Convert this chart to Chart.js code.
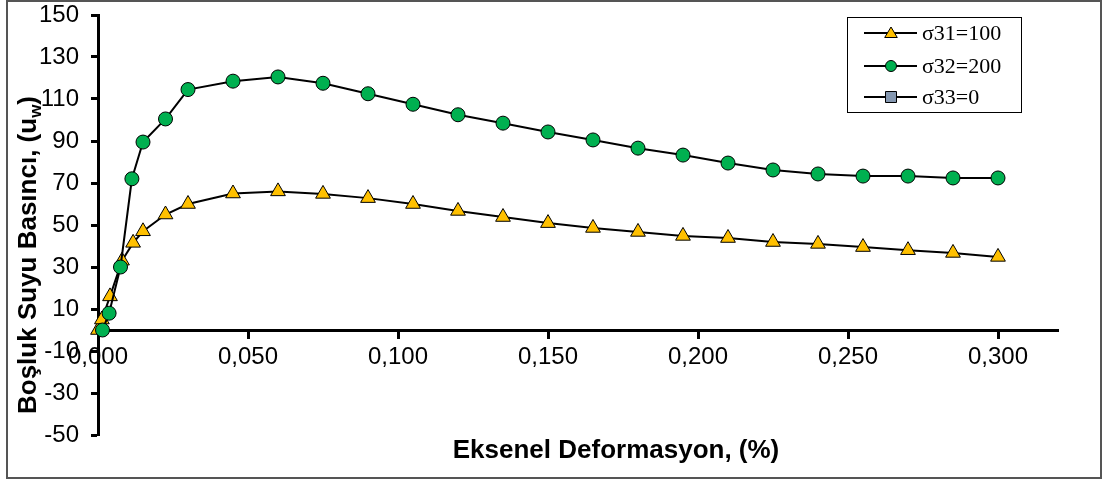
<!DOCTYPE html>
<html>
<head>
<meta charset="utf-8">
<script src="https://cdn.jsdelivr.net/npm/chart.js@4.4.0/dist/chart.umd.min.js"></script>
<style>
  html, body { margin: 0; padding: 0; background: #fff; }
  #wrap { width: 1104px; height: 481px; position: relative; }
</style>
</head>
<body>
<div id="wrap"><canvas id="chart" width="1104" height="481"></canvas></div>
<script>
// strain (%) and pore pressure readings
const strain31 = [0, 0.0013, 0.004, 0.008, 0.0117, 0.015, 0.0225, 0.03, 0.045, 0.06,
  0.075, 0.09, 0.105, 0.12, 0.135, 0.15, 0.165, 0.18, 0.195, 0.21, 0.225, 0.24, 0.255, 0.27, 0.285, 0.30];
const pwp31 = [0, 5, 16, 33, 41.5, 47, 55, 60, 65, 66,
  64.8, 62.8, 60, 56.7, 53.8, 50.9, 48.6, 46.7, 44.8, 43.8, 41.9, 41, 39.5, 38, 36.7, 34.8];

const strain32 = [0.0015, 0.0037, 0.0075, 0.0113, 0.015, 0.0225, 0.03, 0.045, 0.06,
  0.075, 0.09, 0.105, 0.12, 0.135, 0.15, 0.165, 0.18, 0.195, 0.21, 0.225, 0.24, 0.255, 0.27, 0.285, 0.30];
const pwp32 = [0, 8, 30, 72, 89.5, 100.5, 114.5, 118.5, 120.5,
  117.5, 112.5, 107.5, 102.5, 98.5, 94.3, 90.5, 86.6, 83.3, 79.5, 76.2, 74.3, 73.3, 73.3, 72.4, 72.4];

const strain33 = [];
const pwp33 = [];

const seriesLabels = ['σ31=100', 'σ32=200', 'σ33=0'];
const xTitle = 'Eksenel Deformasyon, (%)';
const yTitleMain = 'Boşluk Suyu Basıncı, (u';
const yTitleSub = 'w';
const yTitleEnd = ')';

const sans = '"Liberation Sans", Arial, sans-serif';
const serif = '"Liberation Serif", "Times New Roman", serif';

const toPoints = (xs, ys) => xs.map((x, i) => ({ x: x, y: ys[i] }));

function drawMarker(ctx, style, x, y, r, fill) {
  ctx.save();
  ctx.fillStyle = fill;
  ctx.strokeStyle = '#000';
  ctx.lineWidth = 1;
  ctx.beginPath();
  if (style === 'triangle') {
    ctx.moveTo(x, y - r);
    ctx.lineTo(x + r * 1.05, y + r * 0.75);
    ctx.lineTo(x - r * 1.05, y + r * 0.75);
    ctx.closePath();
  } else if (style === 'circle') {
    ctx.arc(x, y, r, 0, Math.PI * 2);
  } else {
    ctx.rect(x - r, y - r, r * 2, r * 2);
  }
  ctx.fill();
  ctx.stroke();
  ctx.restore();
}

// outer frame, axis titles and the boxed legend
const decorations = {
  id: 'decorations',
  beforeDraw(chart) {
    const ctx = chart.ctx;
    ctx.save();
    ctx.fillStyle = '#fff';
    ctx.fillRect(0, 0, chart.width, chart.height);
    ctx.strokeStyle = '#555';
    ctx.lineWidth = 2;
    ctx.strokeRect(7, 1, 1094, 477);
    ctx.restore();
  },
  afterDraw(chart) {
    const ctx = chart.ctx;
    ctx.save();
    ctx.fillStyle = '#000';
    ctx.textBaseline = 'middle';

    // x title
    ctx.font = 'bold 26px ' + sans;
    ctx.textAlign = 'center';
    ctx.fillText(xTitle, 616, 451);

    // y title with subscript
    ctx.translate(29, 255);
    ctx.rotate(-Math.PI / 2);
    ctx.textAlign = 'left';
    ctx.font = 'bold 26px ' + sans;
    const w1 = ctx.measureText(yTitleMain).width;
    const w3 = ctx.measureText(yTitleEnd).width;
    ctx.font = 'bold 17px ' + sans;
    const w2 = ctx.measureText(yTitleSub).width;
    let x0 = -(w1 + w2 + w3) / 2;
    ctx.font = 'bold 26px ' + sans;
    ctx.fillText(yTitleMain, x0, 0);
    ctx.font = 'bold 17px ' + sans;
    ctx.fillText(yTitleSub, x0 + w1, 7);
    ctx.font = 'bold 26px ' + sans;
    ctx.fillText(yTitleEnd, x0 + w1 + w2, 0);
    ctx.restore();

    // legend
    ctx.save();
    ctx.fillStyle = '#fff';
    ctx.fillRect(847, 17, 174, 95);
    ctx.strokeStyle = '#000';
    ctx.lineWidth = 1;
    ctx.strokeRect(847.5, 17.5, 174, 95);
    const rows = [33, 66, 97];
    chart.data.datasets.forEach((ds, i) => {
      const y = rows[i];
      ctx.strokeStyle = '#000';
      ctx.lineWidth = 2;
      ctx.beginPath();
      ctx.moveTo(864, y);
      ctx.lineTo(917, y);
      ctx.stroke();
      drawMarker(ctx, ds.pointStyle, 891, y, ds.pointStyle === 'triangle' ? 6 : 5.5, ds.pointBackgroundColor);
      ctx.fillStyle = '#000';
      ctx.font = '22px ' + serif;
      ctx.textAlign = 'left';
      ctx.textBaseline = 'middle';
      ctx.fillText(ds.label, 922, y + 1);
    });
    ctx.restore();
  }
};

new Chart(document.getElementById('chart').getContext('2d'), {
  type: 'scatter',
  data: {
    datasets: [
      {
        label: seriesLabels[0],
        data: toPoints(strain31, pwp31),
        showLine: true,
        borderColor: '#000',
        borderWidth: 2,
        pointStyle: 'triangle',
        pointRadius: 8.5,
        pointHoverRadius: 8.5,
        pointBackgroundColor: '#FFC000',
        pointBorderColor: '#000',
        pointBorderWidth: 1,
        tension: 0,
        clip: false,
        order: 1
      },
      {
        label: seriesLabels[1],
        data: toPoints(strain32, pwp32),
        showLine: true,
        borderColor: '#000',
        borderWidth: 2,
        pointStyle: 'circle',
        pointRadius: 7,
        pointHoverRadius: 7,
        pointBackgroundColor: '#00B050',
        pointBorderColor: '#000',
        pointBorderWidth: 1,
        tension: 0,
        clip: false,
        order: 0
      },
      {
        label: seriesLabels[2],
        data: toPoints(strain33, pwp33),
        showLine: true,
        borderColor: '#000',
        borderWidth: 2,
        pointStyle: 'rect',
        pointRadius: 6,
        pointBackgroundColor: '#8497B0',
        pointBorderColor: '#000',
        pointBorderWidth: 1,
        clip: false,
        order: 2
      }
    ]
  },
  options: {
    responsive: false,
    animation: false,
    layout: { padding: { left: 0, top: 15, right: 46, bottom: 46 } },
    plugins: { legend: { display: false }, tooltip: { enabled: false } },
    scales: {
      x: {
        type: 'linear',
        position: { y: 0 },
        min: 0,
        max: 0.32,
        ticks: {
          stepSize: 0.05,
          includeBounds: false,
          autoSkip: false,
          maxRotation: 0,
          padding: 6,
          color: '#000',
          font: { family: sans, size: 24 },
          callback: v => v.toFixed(3).replace('.', ',')
        },
        grid: { drawOnChartArea: false, drawTicks: true, tickLength: 7, tickWidth: 3, tickColor: '#000' },
        border: { color: '#000', width: 3 }
      },
      y: {
        position: 'left',
        min: -50,
        max: 150,
        ticks: {
          stepSize: 20,
          padding: 12,
          color: '#000',
          font: { family: sans, size: 24 }
        },
        grid: { drawOnChartArea: false, drawTicks: true, tickLength: 7, tickWidth: 3, tickColor: '#000' },
        border: { color: '#000', width: 3 },
        afterFit: s => {
          s.width = 98;
          s.paddingTop = 0;
          s.paddingBottom = 0;
        }
      }
    }
  },
  plugins: [decorations]
});
</script>
</body>
</html>
